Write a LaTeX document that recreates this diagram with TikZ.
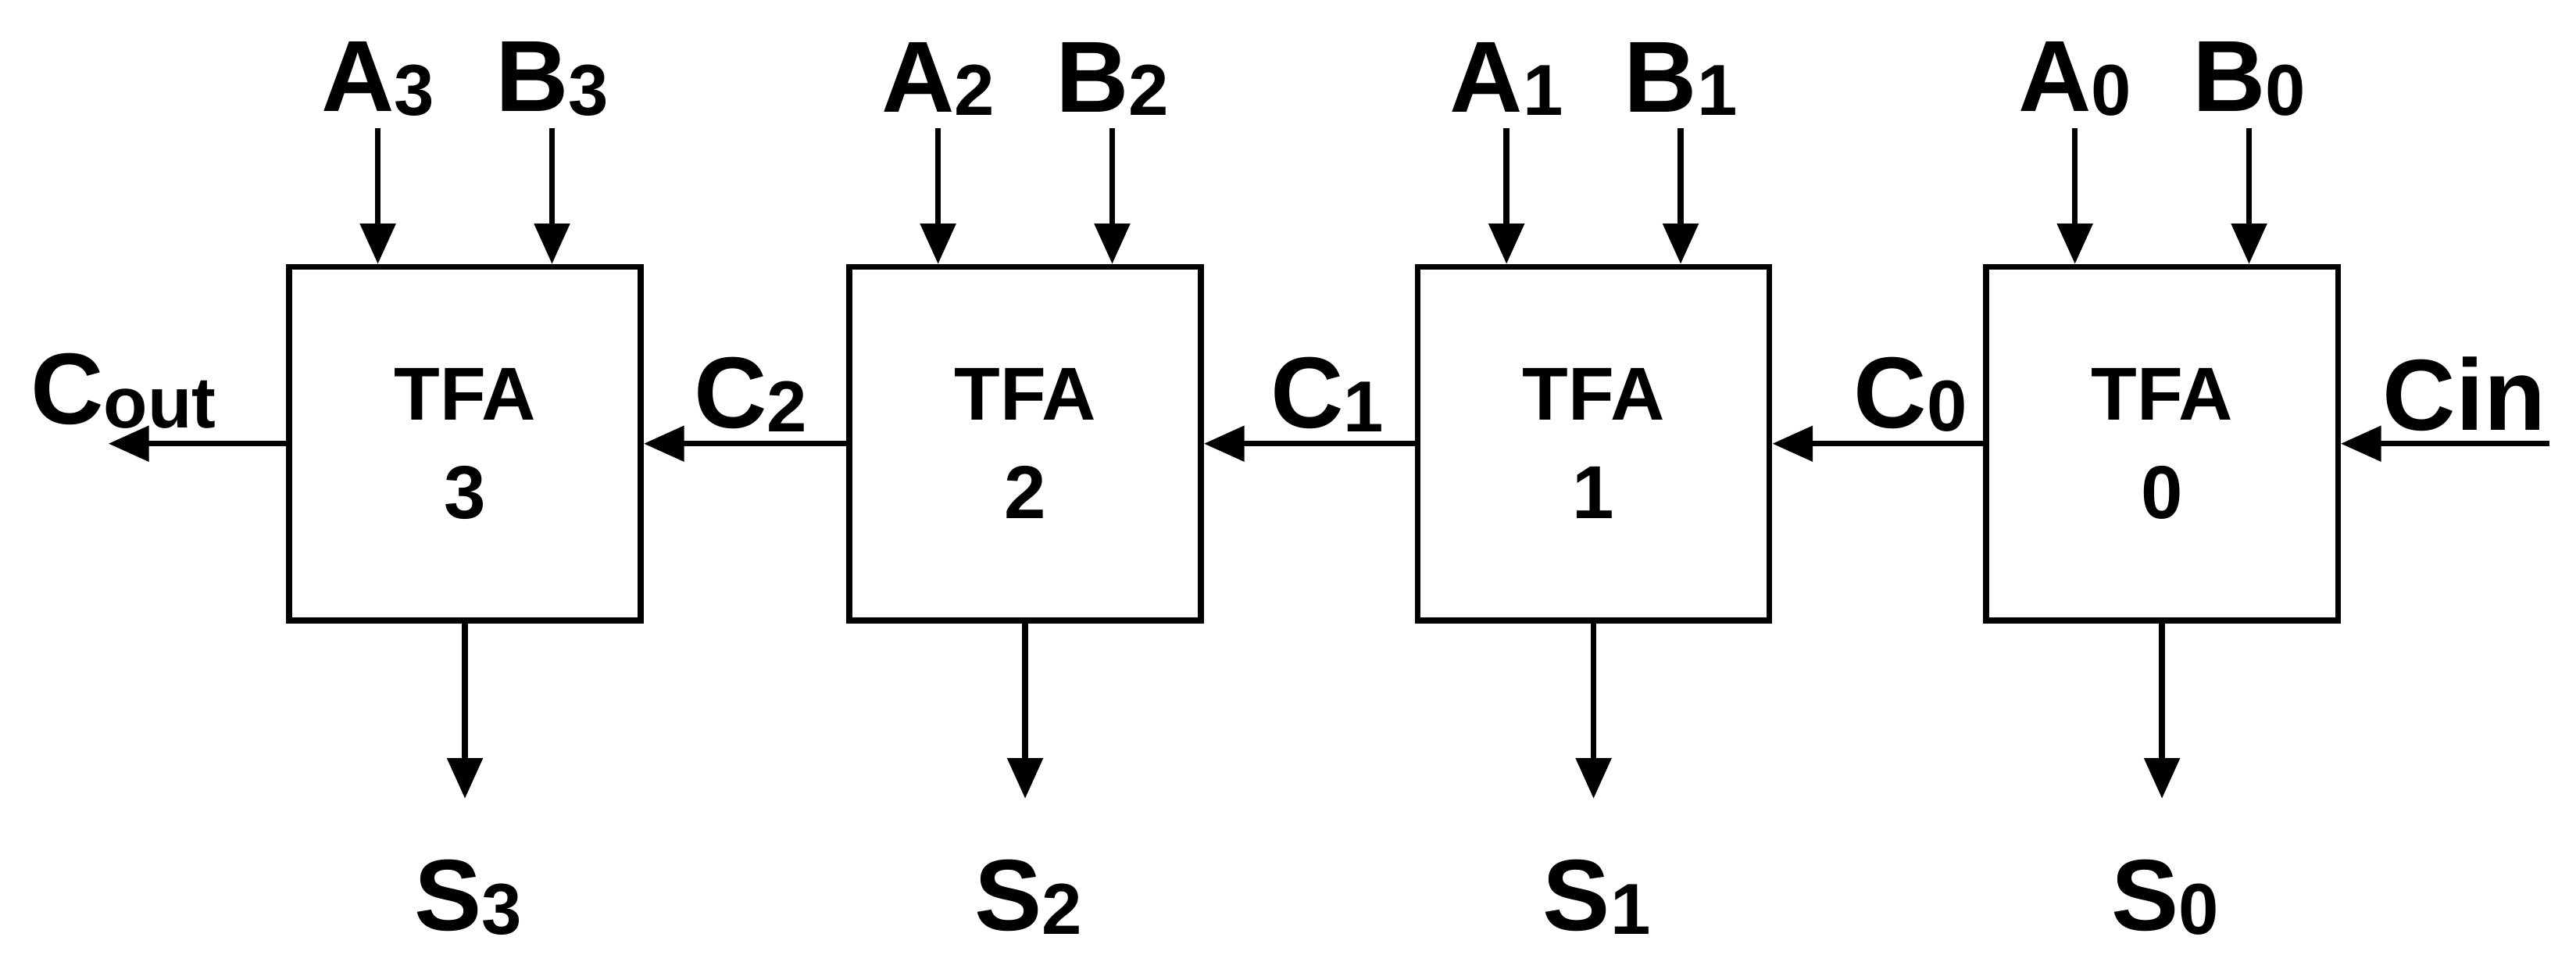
\documentclass[tikz,border=0pt]{standalone}
\usepackage{fontspec}
\setmainfont{Liberation Sans}
\usetikzlibrary{arrows.meta}
\newcommand{\subdig}[1]{{\fontsize{12.5}{12}\selectfont\raisebox{-0.05em}{#1}}}
\begin{document}
\begin{tikzpicture}[x=0.01cm,y=-0.01cm,
  box/.style={draw,line width=1pt,minimum width=2.14cm,minimum height=2.15cm,inner sep=0pt,font=\fontsize{13}{15}\selectfont\bfseries,align=center},
  lbl/.style={font=\fontsize{17.5}{17}\selectfont\bfseries,inner sep=0pt},
  arr/.style={line width=1pt,-{Triangle[length=7pt,width=6pt]}}]
\useasboundingbox (0,0) rectangle (1568,585);
\foreach \n/\cx in {3/283,2/624,1/970,0/1316}{
  \node[box] (T\n) at (\cx,270) {TFA\\[2pt]\n};
  \node[lbl] (A\n) at (\cx-53,48) {A\subdig{\n}};
  \node[lbl] (B\n) at (\cx+53,48) {B\subdig{\n}};
  \node[lbl] (S\n) at (\cx+2,546) {S\subdig{\n}};
  \coordinate (a\n) at (\cx-53,78);
  \coordinate (b\n) at (\cx+53,78);
  \coordinate (s\n) at (\cx,486);
  \draw[arr] (a\n) -- (a\n |- T\n.north);
  \draw[arr] (b\n) -- (b\n |- T\n.north);
  \draw[arr] (T\n.south) -- (s\n);
}
\draw[arr] (T0.west) -- (T1.east);
\draw[arr] (T1.west) -- (T2.east);
\draw[arr] (T2.west) -- (T3.east);
\coordinate (co) at (66,270);
\draw[arr] (T3.west) -- (co);
\coordinate (ci) at (1552,270);
\draw[arr] (ci) -- (T0.east);
\node[lbl] (C0) at (1163,240) {C\subdig{0}};
\node[lbl] (C1) at (808,240) {C\subdig{1}};
\node[lbl] (C2) at (457,240) {C\subdig{2}};
\node[lbl] (Cout) at (75,238) {C\subdig{out}};
\node[lbl] (Cin) at (1500,240) {Cin};
\end{tikzpicture}
\end{document}
